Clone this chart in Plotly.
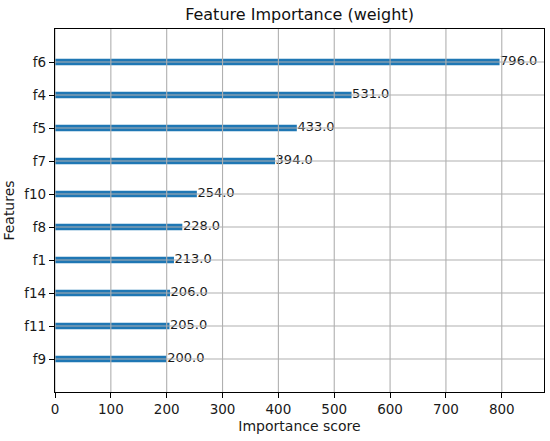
import plotly.graph_objects as go

features = ["f9", "f11", "f14", "f1", "f8", "f10", "f7", "f5", "f4", "f6"]
scores = [200, 205, 206, 213, 228, 254, 394, 433, 531, 796]
x_ticks = [0, 100, 200, 300, 400, 500, 600, 700, 800]

ypos = list(range(len(features)))
labels = [f"{v:.1f}" for v in scores]
xmax = max(scores) * 1.1

FONT = "DejaVu Sans"
BLUE = "#1f77b4"
GRID = "#b0b0b0"

fig = go.Figure()
fig.add_trace(go.Bar(
    x=scores, y=ypos, orientation="h", width=0.2,
    marker=dict(color=BLUE, line=dict(width=0)),
    hoverinfo="skip", showlegend=False,
))
fig.add_trace(go.Scatter(
    x=[v + 1 for v in scores], y=ypos, mode="text", text=labels,
    textposition="middle right", textfont=dict(family=FONT, size=13, color="#1a1a1a"),
    hoverinfo="skip", showlegend=False, cliponaxis=False,
))

shapes = []
for t in x_ticks:
    shapes.append(dict(type="line", xref="x", yref="paper", x0=t, x1=t, y0=0, y1=1,
                       line=dict(color=GRID, width=1.1), layer="above"))
for yv in ypos:
    shapes.append(dict(type="line", xref="paper", yref="y", x0=0, x1=1, y0=yv, y1=yv,
                       line=dict(color=GRID, width=1.1), layer="above"))

fig.update_layout(
    width=550, height=441,
    margin=dict(l=55, r=6, t=29, b=49),
    paper_bgcolor="white", plot_bgcolor="white",
    font=dict(family=FONT, size=13.5, color="#1a1a1a"),
    title=dict(text="Feature Importance (weight)", x=(55 + 544) / 2 / 550, xanchor="center",
               y=1 - 14 / 441, yanchor="middle", font=dict(size=16, color="#111")),
    shapes=shapes,
    xaxis=dict(range=[0, xmax], tickvals=x_ticks, showgrid=False, zeroline=False,
               showline=True, linecolor="black", linewidth=1.2, mirror=True,
               ticks="outside", ticklen=5, tickcolor="black", automargin=False,
               title=dict(text="Importance score", standoff=4, font=dict(size=14))),
    yaxis=dict(range=[-1, len(features)], tickvals=ypos, ticktext=features,
               showgrid=False, zeroline=False, automargin=False,
               showline=True, linecolor="black", linewidth=1.2, mirror=True,
               ticks="outside", ticklen=5, tickcolor="black",
               title=dict(text="Features", standoff=6, font=dict(size=14))),
)

fig.write_html("out.html", config={"displayModeBar": False},
               post_script="document.body.style.margin='0';document.body.style.padding='0';")
